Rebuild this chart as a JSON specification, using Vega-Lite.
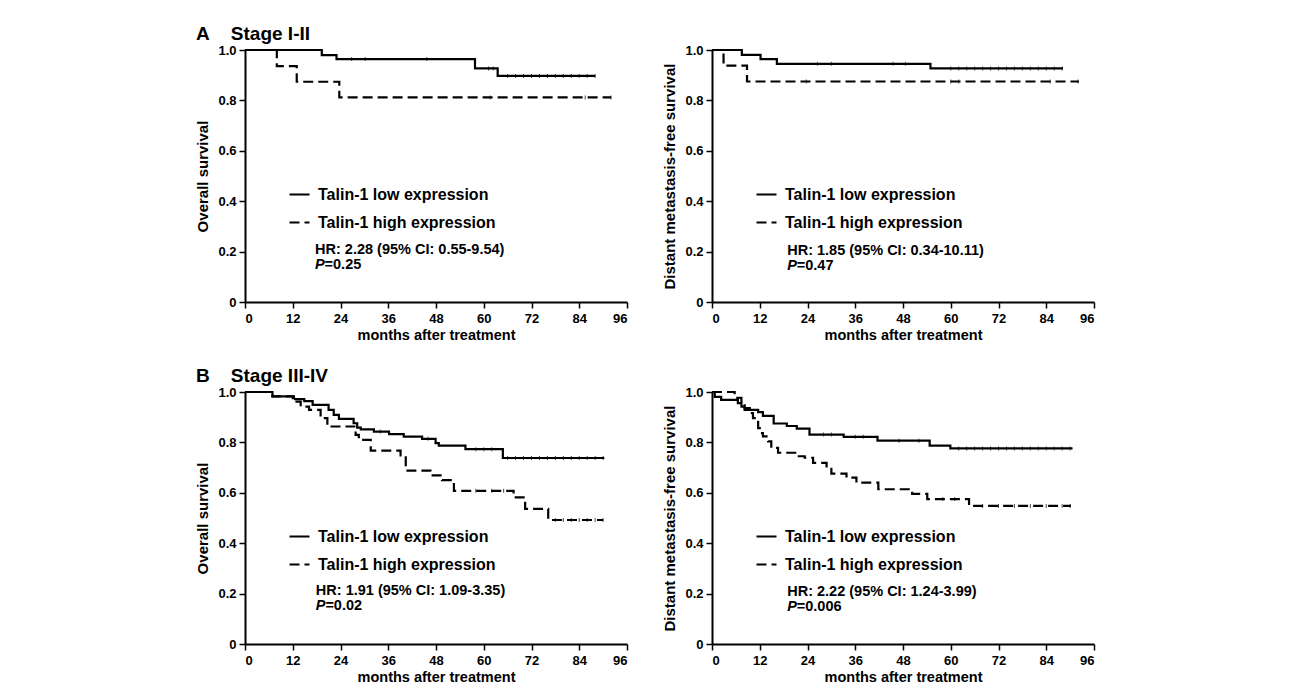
{
  "$schema": "https://vega.github.io/schema/vega-lite/v6.json",
  "autosize": {"type": "none"},
  "padding": {"left": 245, "top": 50, "right": 1044, "bottom": 634},
  "background": "white",
  "config": {
    "font": "Liberation Sans",
    "view": {"stroke": null},
    "axis": {"domainColor": "black", "domainWidth": 2, "tickColor": "black", "tickWidth": 1.5, "tickSize": 6, "labelFont": "Liberation Sans", "labelFontSize": 13, "labelFontWeight": "bold", "labelColor": "black", "labelPadding": 3, "titleFont": "Liberation Sans", "titleFontSize": 14.5, "titleFontWeight": "bold", "titleColor": "black", "grid": false},
    "axisY": {"titlePadding": 7, "titleFontSize": 15},
    "axisX": {"titlePadding": 3, "labelPadding": 4},
    "legend": {"symbolType": "stroke", "symbolSize": 400, "symbolStrokeWidth": 2.2, "symbolStrokeColor": "black", "labelFont": "Liberation Sans", "labelFontSize": 16, "labelFontWeight": "bold", "labelColor": "black", "labelOffset": 7, "rowPadding": 8, "padding": 0, "labelLimit": 400},
    "title": {"font": "Liberation Sans", "fontSize": 19, "fontWeight": "bold", "color": "black", "anchor": "start", "frame": "group", "baseline": "alphabetic", "offset": 0, "dx": -49, "dy": 4}
  },
  "datasets": {
    "km": [
      {"panel": "A1", "group": "Talin-1 low expression", "month": 0, "survival": 1},
      {"panel": "A1", "group": "Talin-1 low expression", "month": 19.3, "survival": 0.98},
      {"panel": "A1", "group": "Talin-1 low expression", "month": 23, "survival": 0.964},
      {"panel": "A1", "group": "Talin-1 low expression", "month": 57.8, "survival": 0.927},
      {"panel": "A1", "group": "Talin-1 low expression", "month": 63.5, "survival": 0.897},
      {"panel": "A1", "group": "Talin-1 low expression", "month": 88, "survival": 0.897},
      {"panel": "A1", "group": "Talin-1 high expression", "month": 0, "survival": 1},
      {"panel": "A1", "group": "Talin-1 high expression", "month": 8, "survival": 0.936},
      {"panel": "A1", "group": "Talin-1 high expression", "month": 13, "survival": 0.874},
      {"panel": "A1", "group": "Talin-1 high expression", "month": 23.7, "survival": 0.812},
      {"panel": "A1", "group": "Talin-1 high expression", "month": 92, "survival": 0.812},

      {"panel": "A2", "group": "Talin-1 low expression", "month": 0, "survival": 1},
      {"panel": "A2", "group": "Talin-1 low expression", "month": 7.5, "survival": 0.981},
      {"panel": "A2", "group": "Talin-1 low expression", "month": 12.2, "survival": 0.964},
      {"panel": "A2", "group": "Talin-1 low expression", "month": 16.3, "survival": 0.945},
      {"panel": "A2", "group": "Talin-1 low expression", "month": 54.9, "survival": 0.927},
      {"panel": "A2", "group": "Talin-1 low expression", "month": 88.2, "survival": 0.927},
      {"panel": "A2", "group": "Talin-1 high expression", "month": 0, "survival": 1},
      {"panel": "A2", "group": "Talin-1 high expression", "month": 2.9, "survival": 0.938},
      {"panel": "A2", "group": "Talin-1 high expression", "month": 8.8, "survival": 0.875},
      {"panel": "A2", "group": "Talin-1 high expression", "month": 92.2, "survival": 0.875},

      {"panel": "B1", "group": "Talin-1 low expression", "month": 0, "survival": 1},
      {"panel": "B1", "group": "Talin-1 low expression", "month": 6.9, "survival": 0.983},
      {"panel": "B1", "group": "Talin-1 low expression", "month": 12.3, "survival": 0.972},
      {"panel": "B1", "group": "Talin-1 low expression", "month": 14.9, "survival": 0.964},
      {"panel": "B1", "group": "Talin-1 low expression", "month": 17, "survival": 0.949},
      {"panel": "B1", "group": "Talin-1 low expression", "month": 21, "survival": 0.929},
      {"panel": "B1", "group": "Talin-1 low expression", "month": 22.3, "survival": 0.909},
      {"panel": "B1", "group": "Talin-1 low expression", "month": 23.6, "survival": 0.893},
      {"panel": "B1", "group": "Talin-1 low expression", "month": 27.3, "survival": 0.876},
      {"panel": "B1", "group": "Talin-1 low expression", "month": 28.2, "survival": 0.859},
      {"panel": "B1", "group": "Talin-1 low expression", "month": 29.1, "survival": 0.852},
      {"panel": "B1", "group": "Talin-1 low expression", "month": 32.4, "survival": 0.843},
      {"panel": "B1", "group": "Talin-1 low expression", "month": 36.2, "survival": 0.833},
      {"panel": "B1", "group": "Talin-1 low expression", "month": 39.9, "survival": 0.823},
      {"panel": "B1", "group": "Talin-1 low expression", "month": 44.5, "survival": 0.814},
      {"panel": "B1", "group": "Talin-1 low expression", "month": 47.9, "survival": 0.797},
      {"panel": "B1", "group": "Talin-1 low expression", "month": 48.7, "survival": 0.787},
      {"panel": "B1", "group": "Talin-1 low expression", "month": 55.4, "survival": 0.773},
      {"panel": "B1", "group": "Talin-1 low expression", "month": 64.8, "survival": 0.738},
      {"panel": "B1", "group": "Talin-1 low expression", "month": 90.3, "survival": 0.738},
      {"panel": "B1", "group": "Talin-1 high expression", "month": 0, "survival": 1},
      {"panel": "B1", "group": "Talin-1 high expression", "month": 6.9, "survival": 0.983},
      {"panel": "B1", "group": "Talin-1 high expression", "month": 12, "survival": 0.962},
      {"panel": "B1", "group": "Talin-1 high expression", "month": 14, "survival": 0.942},
      {"panel": "B1", "group": "Talin-1 high expression", "month": 16.1, "survival": 0.929},
      {"panel": "B1", "group": "Talin-1 high expression", "month": 19, "survival": 0.896},
      {"panel": "B1", "group": "Talin-1 high expression", "month": 20.7, "survival": 0.863},
      {"panel": "B1", "group": "Talin-1 high expression", "month": 27.8, "survival": 0.83},
      {"panel": "B1", "group": "Talin-1 high expression", "month": 28.6, "survival": 0.81},
      {"panel": "B1", "group": "Talin-1 high expression", "month": 31.6, "survival": 0.767},
      {"panel": "B1", "group": "Talin-1 high expression", "month": 39.1, "survival": 0.748},
      {"panel": "B1", "group": "Talin-1 high expression", "month": 40.4, "survival": 0.688},
      {"panel": "B1", "group": "Talin-1 high expression", "month": 46.6, "survival": 0.669},
      {"panel": "B1", "group": "Talin-1 high expression", "month": 49.5, "survival": 0.65},
      {"panel": "B1", "group": "Talin-1 high expression", "month": 52.5, "survival": 0.608},
      {"panel": "B1", "group": "Talin-1 high expression", "month": 67.5, "survival": 0.582},
      {"panel": "B1", "group": "Talin-1 high expression", "month": 70.4, "survival": 0.536},
      {"panel": "B1", "group": "Talin-1 high expression", "month": 76.2, "survival": 0.492},
      {"panel": "B1", "group": "Talin-1 high expression", "month": 90, "survival": 0.492},

      {"panel": "B2", "group": "Talin-1 low expression", "month": 0, "survival": 1},
      {"panel": "B2", "group": "Talin-1 low expression", "month": 0.7, "survival": 0.981},
      {"panel": "B2", "group": "Talin-1 low expression", "month": 2.3, "survival": 0.969},
      {"panel": "B2", "group": "Talin-1 low expression", "month": 6.5, "survival": 0.956},
      {"panel": "B2", "group": "Talin-1 low expression", "month": 7.4, "survival": 0.942},
      {"panel": "B2", "group": "Talin-1 low expression", "month": 8.2, "survival": 0.929},
      {"panel": "B2", "group": "Talin-1 low expression", "month": 11.6, "survival": 0.92},
      {"panel": "B2", "group": "Talin-1 low expression", "month": 12.8, "survival": 0.905},
      {"panel": "B2", "group": "Talin-1 low expression", "month": 15.5, "survival": 0.875},
      {"panel": "B2", "group": "Talin-1 low expression", "month": 18.8, "survival": 0.865},
      {"panel": "B2", "group": "Talin-1 low expression", "month": 21.3, "survival": 0.855},
      {"panel": "B2", "group": "Talin-1 low expression", "month": 24.5, "survival": 0.831},
      {"panel": "B2", "group": "Talin-1 low expression", "month": 33.1, "survival": 0.822},
      {"panel": "B2", "group": "Talin-1 low expression", "month": 41.6, "survival": 0.807},
      {"panel": "B2", "group": "Talin-1 low expression", "month": 54.7, "survival": 0.787},
      {"panel": "B2", "group": "Talin-1 low expression", "month": 59.9, "survival": 0.776},
      {"panel": "B2", "group": "Talin-1 low expression", "month": 90.6, "survival": 0.776},
      {"panel": "B2", "group": "Talin-1 high expression", "month": 0, "survival": 1},
      {"panel": "B2", "group": "Talin-1 high expression", "month": 5.7, "survival": 0.977},
      {"panel": "B2", "group": "Talin-1 high expression", "month": 7.4, "survival": 0.956},
      {"panel": "B2", "group": "Talin-1 high expression", "month": 8.2, "survival": 0.936},
      {"panel": "B2", "group": "Talin-1 high expression", "month": 9.5, "survival": 0.916},
      {"panel": "B2", "group": "Talin-1 high expression", "month": 10.3, "survival": 0.896},
      {"panel": "B2", "group": "Talin-1 high expression", "month": 11.6, "survival": 0.857},
      {"panel": "B2", "group": "Talin-1 high expression", "month": 12, "survival": 0.837},
      {"panel": "B2", "group": "Talin-1 high expression", "month": 12.8, "survival": 0.824},
      {"panel": "B2", "group": "Talin-1 high expression", "month": 14.1, "survival": 0.804},
      {"panel": "B2", "group": "Talin-1 high expression", "month": 14.9, "survival": 0.778},
      {"panel": "B2", "group": "Talin-1 high expression", "month": 16.6, "survival": 0.759},
      {"panel": "B2", "group": "Talin-1 high expression", "month": 21.2, "survival": 0.745},
      {"panel": "B2", "group": "Talin-1 high expression", "month": 23.3, "survival": 0.739},
      {"panel": "B2", "group": "Talin-1 high expression", "month": 25.4, "survival": 0.719},
      {"panel": "B2", "group": "Talin-1 high expression", "month": 28.8, "survival": 0.7},
      {"panel": "B2", "group": "Talin-1 high expression", "month": 30, "survival": 0.676},
      {"panel": "B2", "group": "Talin-1 high expression", "month": 33.8, "survival": 0.66},
      {"panel": "B2", "group": "Talin-1 high expression", "month": 36.3, "survival": 0.64},
      {"panel": "B2", "group": "Talin-1 high expression", "month": 41.8, "survival": 0.614},
      {"panel": "B2", "group": "Talin-1 high expression", "month": 50.3, "survival": 0.596},
      {"panel": "B2", "group": "Talin-1 high expression", "month": 54.1, "survival": 0.575},
      {"panel": "B2", "group": "Talin-1 high expression", "month": 64.6, "survival": 0.548},
      {"panel": "B2", "group": "Talin-1 high expression", "month": 90.2, "survival": 0.548}
    ],
    "censor": [
      {"panel": "A1", "month": 26.8, "survival": 0.964}, {"panel": "A1", "month": 30.2, "survival": 0.964}, {"panel": "A1", "month": 45.7, "survival": 0.964},
      {"panel": "A1", "month": 61.2, "survival": 0.927}, {"panel": "A1", "month": 62.4, "survival": 0.927},
      {"panel": "A1", "month": 66, "survival": 0.897}, {"panel": "A1", "month": 68, "survival": 0.897}, {"panel": "A1", "month": 70, "survival": 0.897}, {"panel": "A1", "month": 72, "survival": 0.897}, {"panel": "A1", "month": 74, "survival": 0.897}, {"panel": "A1", "month": 76, "survival": 0.897}, {"panel": "A1", "month": 78, "survival": 0.897}, {"panel": "A1", "month": 80, "survival": 0.897}, {"panel": "A1", "month": 82, "survival": 0.897}, {"panel": "A1", "month": 84, "survival": 0.897}, {"panel": "A1", "month": 86, "survival": 0.897}, {"panel": "A1", "month": 88, "survival": 0.897},
      {"panel": "A1", "month": 61.6, "survival": 0.812}, {"panel": "A1", "month": 85.5, "survival": 0.812}, {"panel": "A1", "month": 92, "survival": 0.812},
      {"panel": "A2", "month": 26.5, "survival": 0.945}, {"panel": "A2", "month": 30, "survival": 0.945}, {"panel": "A2", "month": 45.5, "survival": 0.945}, {"panel": "A2", "month": 48.6, "survival": 0.945},
      {"panel": "A2", "month": 60, "survival": 0.927}, {"panel": "A2", "month": 62, "survival": 0.927}, {"panel": "A2", "month": 64, "survival": 0.927}, {"panel": "A2", "month": 66, "survival": 0.927}, {"panel": "A2", "month": 68, "survival": 0.927}, {"panel": "A2", "month": 70, "survival": 0.927}, {"panel": "A2", "month": 72, "survival": 0.927}, {"panel": "A2", "month": 74, "survival": 0.927}, {"panel": "A2", "month": 76, "survival": 0.927}, {"panel": "A2", "month": 78, "survival": 0.927}, {"panel": "A2", "month": 80, "survival": 0.927}, {"panel": "A2", "month": 82, "survival": 0.927}, {"panel": "A2", "month": 84, "survival": 0.927}, {"panel": "A2", "month": 86, "survival": 0.927}, {"panel": "A2", "month": 88, "survival": 0.927},
      {"panel": "A2", "month": 23.7, "survival": 0.875}, {"panel": "A2", "month": 60, "survival": 0.875}, {"panel": "A2", "month": 62, "survival": 0.875}, {"panel": "A2", "month": 85, "survival": 0.875}, {"panel": "A2", "month": 92, "survival": 0.875},
      {"panel": "B1", "month": 34, "survival": 0.843}, {"panel": "B1", "month": 46, "survival": 0.814}, {"panel": "B1", "month": 58, "survival": 0.773}, {"panel": "B1", "month": 60, "survival": 0.773}, {"panel": "B1", "month": 62, "survival": 0.773},
      {"panel": "B1", "month": 66, "survival": 0.738}, {"panel": "B1", "month": 68, "survival": 0.738}, {"panel": "B1", "month": 70, "survival": 0.738}, {"panel": "B1", "month": 72, "survival": 0.738}, {"panel": "B1", "month": 74, "survival": 0.738}, {"panel": "B1", "month": 76, "survival": 0.738}, {"panel": "B1", "month": 78, "survival": 0.738}, {"panel": "B1", "month": 80, "survival": 0.738}, {"panel": "B1", "month": 82, "survival": 0.738}, {"panel": "B1", "month": 84, "survival": 0.738}, {"panel": "B1", "month": 86, "survival": 0.738}, {"panel": "B1", "month": 88, "survival": 0.738}, {"panel": "B1", "month": 90, "survival": 0.738},
      {"panel": "B1", "month": 58, "survival": 0.608}, {"panel": "B1", "month": 62, "survival": 0.608}, {"panel": "B1", "month": 65, "survival": 0.608},
      {"panel": "B1", "month": 78, "survival": 0.492}, {"panel": "B1", "month": 80, "survival": 0.492}, {"panel": "B1", "month": 82, "survival": 0.492}, {"panel": "B1", "month": 84, "survival": 0.492}, {"panel": "B1", "month": 86, "survival": 0.492}, {"panel": "B1", "month": 88, "survival": 0.492}, {"panel": "B1", "month": 90, "survival": 0.492},
      {"panel": "B2", "month": 28, "survival": 0.831}, {"panel": "B2", "month": 30, "survival": 0.831}, {"panel": "B2", "month": 36, "survival": 0.822}, {"panel": "B2", "month": 38, "survival": 0.822}, {"panel": "B2", "month": 47, "survival": 0.807}, {"panel": "B2", "month": 52, "survival": 0.807},
      {"panel": "B2", "month": 62, "survival": 0.776}, {"panel": "B2", "month": 64, "survival": 0.776}, {"panel": "B2", "month": 66, "survival": 0.776}, {"panel": "B2", "month": 68, "survival": 0.776}, {"panel": "B2", "month": 70, "survival": 0.776}, {"panel": "B2", "month": 72, "survival": 0.776}, {"panel": "B2", "month": 74, "survival": 0.776}, {"panel": "B2", "month": 76, "survival": 0.776}, {"panel": "B2", "month": 78, "survival": 0.776}, {"panel": "B2", "month": 80, "survival": 0.776}, {"panel": "B2", "month": 82, "survival": 0.776}, {"panel": "B2", "month": 84, "survival": 0.776}, {"panel": "B2", "month": 86, "survival": 0.776}, {"panel": "B2", "month": 88, "survival": 0.776}, {"panel": "B2", "month": 90, "survival": 0.776},
      {"panel": "B2", "month": 58, "survival": 0.575}, {"panel": "B2", "month": 61, "survival": 0.575},
      {"panel": "B2", "month": 68, "survival": 0.548}, {"panel": "B2", "month": 72, "survival": 0.548}, {"panel": "B2", "month": 76, "survival": 0.548}, {"panel": "B2", "month": 80, "survival": 0.548}, {"panel": "B2", "month": 84, "survival": 0.548}, {"panel": "B2", "month": 88, "survival": 0.548}, {"panel": "B2", "month": 90, "survival": 0.548}
    ],
    "notes": [
      {"panel": "A1", "month": 17.6, "survival": 0.206, "label": "HR: 2.28 (95% CI: 0.55-9.54)", "italic": false},
      {"panel": "A1", "month": 17.6, "survival": 0.147, "label": "P", "italic": true},
      {"panel": "A1", "month": 20.0, "survival": 0.147, "label": "=0.25", "italic": false},
      {"panel": "A2", "month": 18.9, "survival": 0.204, "label": "HR: 1.85 (95% CI: 0.34-10.11)", "italic": false},
      {"panel": "A2", "month": 18.9, "survival": 0.143, "label": "P", "italic": true},
      {"panel": "A2", "month": 21.3, "survival": 0.143, "label": "=0.47", "italic": false},
      {"panel": "B1", "month": 17.8, "survival": 0.209, "label": "HR: 1.91 (95% CI: 1.09-3.35)", "italic": false},
      {"panel": "B1", "month": 17.8, "survival": 0.149, "label": "P", "italic": true},
      {"panel": "B1", "month": 20.2, "survival": 0.149, "label": "=0.02", "italic": false},
      {"panel": "B2", "month": 18.9, "survival": 0.207, "label": "HR: 2.22 (95% CI: 1.24-3.99)", "italic": false},
      {"panel": "B2", "month": 18.9, "survival": 0.146, "label": "P", "italic": true},
      {"panel": "B2", "month": 21.3, "survival": 0.146, "label": "=0.006", "italic": false}
    ]
  },
  "columns": 2,
  "spacing": {"row": 90, "column": 85},
  "bounds": "flush",
  "resolve": {"legend": {"strokeDash": "independent"}},
  "concat": [
    {
      "width": 382, "height": 252,
      "title": {"text": "A\u00a0\u00a0\u00a0\u00a0Stage I-II"},
      "layer": [
        {"data": {"name": "km"}, "transform": [{"filter": "datum.panel == 'A1'"}],
         "mark": {"type": "line", "interpolate": "step-after", "color": "black", "strokeWidth": 2.2},
         "encoding": {
           "x": {"field": "month", "type": "quantitative", "scale": {"domain": [0, 96], "nice": false}, "axis": {"values": [0, 12, 24, 36, 48, 60, 72, 84, 96], "title": "months after treatment"}},
           "y": {"field": "survival", "type": "quantitative", "scale": {"domain": [0, 1], "nice": false}, "axis": {"values": [0, 0.2, 0.4, 0.6, 0.8, 1], "labelExpr": "datum.value == 0 ? '0' : format(datum.value, '.1f')", "title": "Overall survival"}},
           "strokeDash": {"field": "group", "type": "nominal", "scale": {"domain": ["Talin-1 low expression", "Talin-1 high expression"], "range": [[1, 0], [10, 5]]}, "legend": {"title": null, "orient": "none", "legendX": 43, "legendY": 133}}
         }},
        {"data": {"name": "censor"}, "transform": [{"filter": "datum.panel == 'A1'"}],
         "mark": {"type": "tick", "orient": "vertical", "color": "black", "size": 4, "thickness": 1},
         "encoding": {"x": {"field": "month", "type": "quantitative"}, "y": {"field": "survival", "type": "quantitative"}}},
        {"data": {"name": "notes"}, "transform": [{"filter": "datum.panel == 'A1' && !datum.italic"}],
         "mark": {"type": "text", "align": "left", "baseline": "middle", "fontSize": 14.5, "fontWeight": "bold", "color": "black"},
         "encoding": {"x": {"field": "month", "type": "quantitative"}, "y": {"field": "survival", "type": "quantitative"}, "text": {"field": "label"}}},
        {"data": {"name": "notes"}, "transform": [{"filter": "datum.panel == 'A1' && datum.italic"}],
         "mark": {"type": "text", "align": "left", "baseline": "middle", "fontSize": 14.5, "fontWeight": "bold", "fontStyle": "italic", "color": "black"},
         "encoding": {"x": {"field": "month", "type": "quantitative"}, "y": {"field": "survival", "type": "quantitative"}, "text": {"field": "label"}}}
      ]
    },
    {
      "width": 382, "height": 252,
      "layer": [
        {"data": {"name": "km"}, "transform": [{"filter": "datum.panel == 'A2'"}],
         "mark": {"type": "line", "interpolate": "step-after", "color": "black", "strokeWidth": 2.2},
         "encoding": {
           "x": {"field": "month", "type": "quantitative", "scale": {"domain": [0, 96], "nice": false}, "axis": {"values": [0, 12, 24, 36, 48, 60, 72, 84, 96], "title": "months after treatment"}},
           "y": {"field": "survival", "type": "quantitative", "scale": {"domain": [0, 1], "nice": false}, "axis": {"values": [0, 0.2, 0.4, 0.6, 0.8, 1], "labelExpr": "datum.value == 0 ? '0' : format(datum.value, '.1f')", "title": "Distant metastasis-free survival"}},
           "strokeDash": {"field": "group", "type": "nominal", "scale": {"domain": ["Talin-1 low expression", "Talin-1 high expression"], "range": [[1, 0], [10, 5]]}, "legend": {"title": null, "orient": "none", "legendX": 43, "legendY": 133}}
         }},
        {"data": {"name": "censor"}, "transform": [{"filter": "datum.panel == 'A2'"}],
         "mark": {"type": "tick", "orient": "vertical", "color": "black", "size": 4, "thickness": 1},
         "encoding": {"x": {"field": "month", "type": "quantitative"}, "y": {"field": "survival", "type": "quantitative"}}},
        {"data": {"name": "notes"}, "transform": [{"filter": "datum.panel == 'A2' && !datum.italic"}],
         "mark": {"type": "text", "align": "left", "baseline": "middle", "fontSize": 14.5, "fontWeight": "bold", "color": "black"},
         "encoding": {"x": {"field": "month", "type": "quantitative"}, "y": {"field": "survival", "type": "quantitative"}, "text": {"field": "label"}}},
        {"data": {"name": "notes"}, "transform": [{"filter": "datum.panel == 'A2' && datum.italic"}],
         "mark": {"type": "text", "align": "left", "baseline": "middle", "fontSize": 14.5, "fontWeight": "bold", "fontStyle": "italic", "color": "black"},
         "encoding": {"x": {"field": "month", "type": "quantitative"}, "y": {"field": "survival", "type": "quantitative"}, "text": {"field": "label"}}}
      ]
    },
    {
      "width": 382, "height": 252,
      "title": {"text": "B\u00a0\u00a0\u00a0\u00a0Stage III-IV"},
      "layer": [
        {"data": {"name": "km"}, "transform": [{"filter": "datum.panel == 'B1'"}],
         "mark": {"type": "line", "interpolate": "step-after", "color": "black", "strokeWidth": 2.2},
         "encoding": {
           "x": {"field": "month", "type": "quantitative", "scale": {"domain": [0, 96], "nice": false}, "axis": {"values": [0, 12, 24, 36, 48, 60, 72, 84, 96], "title": "months after treatment"}},
           "y": {"field": "survival", "type": "quantitative", "scale": {"domain": [0, 1], "nice": false}, "axis": {"values": [0, 0.2, 0.4, 0.6, 0.8, 1], "labelExpr": "datum.value == 0 ? '0' : format(datum.value, '.1f')", "title": "Overall survival"}},
           "strokeDash": {"field": "group", "type": "nominal", "scale": {"domain": ["Talin-1 low expression", "Talin-1 high expression"], "range": [[1, 0], [10, 5]]}, "legend": {"title": null, "orient": "none", "legendX": 43, "legendY": 133}}
         }},
        {"data": {"name": "censor"}, "transform": [{"filter": "datum.panel == 'B1'"}],
         "mark": {"type": "tick", "orient": "vertical", "color": "black", "size": 4, "thickness": 1},
         "encoding": {"x": {"field": "month", "type": "quantitative"}, "y": {"field": "survival", "type": "quantitative"}}},
        {"data": {"name": "notes"}, "transform": [{"filter": "datum.panel == 'B1' && !datum.italic"}],
         "mark": {"type": "text", "align": "left", "baseline": "middle", "fontSize": 14.5, "fontWeight": "bold", "color": "black"},
         "encoding": {"x": {"field": "month", "type": "quantitative"}, "y": {"field": "survival", "type": "quantitative"}, "text": {"field": "label"}}},
        {"data": {"name": "notes"}, "transform": [{"filter": "datum.panel == 'B1' && datum.italic"}],
         "mark": {"type": "text", "align": "left", "baseline": "middle", "fontSize": 14.5, "fontWeight": "bold", "fontStyle": "italic", "color": "black"},
         "encoding": {"x": {"field": "month", "type": "quantitative"}, "y": {"field": "survival", "type": "quantitative"}, "text": {"field": "label"}}}
      ]
    },
    {
      "width": 382, "height": 252,
      "layer": [
        {"data": {"name": "km"}, "transform": [{"filter": "datum.panel == 'B2'"}],
         "mark": {"type": "line", "interpolate": "step-after", "color": "black", "strokeWidth": 2.2},
         "encoding": {
           "x": {"field": "month", "type": "quantitative", "scale": {"domain": [0, 96], "nice": false}, "axis": {"values": [0, 12, 24, 36, 48, 60, 72, 84, 96], "title": "months after treatment"}},
           "y": {"field": "survival", "type": "quantitative", "scale": {"domain": [0, 1], "nice": false}, "axis": {"values": [0, 0.2, 0.4, 0.6, 0.8, 1], "labelExpr": "datum.value == 0 ? '0' : format(datum.value, '.1f')", "title": "Distant metastasis-free survival"}},
           "strokeDash": {"field": "group", "type": "nominal", "scale": {"domain": ["Talin-1 low expression", "Talin-1 high expression"], "range": [[1, 0], [10, 5]]}, "legend": {"title": null, "orient": "none", "legendX": 43, "legendY": 133}}
         }},
        {"data": {"name": "censor"}, "transform": [{"filter": "datum.panel == 'B2'"}],
         "mark": {"type": "tick", "orient": "vertical", "color": "black", "size": 4, "thickness": 1},
         "encoding": {"x": {"field": "month", "type": "quantitative"}, "y": {"field": "survival", "type": "quantitative"}}},
        {"data": {"name": "notes"}, "transform": [{"filter": "datum.panel == 'B2' && !datum.italic"}],
         "mark": {"type": "text", "align": "left", "baseline": "middle", "fontSize": 14.5, "fontWeight": "bold", "color": "black"},
         "encoding": {"x": {"field": "month", "type": "quantitative"}, "y": {"field": "survival", "type": "quantitative"}, "text": {"field": "label"}}},
        {"data": {"name": "notes"}, "transform": [{"filter": "datum.panel == 'B2' && datum.italic"}],
         "mark": {"type": "text", "align": "left", "baseline": "middle", "fontSize": 14.5, "fontWeight": "bold", "fontStyle": "italic", "color": "black"},
         "encoding": {"x": {"field": "month", "type": "quantitative"}, "y": {"field": "survival", "type": "quantitative"}, "text": {"field": "label"}}}
      ]
    }
  ]
}
